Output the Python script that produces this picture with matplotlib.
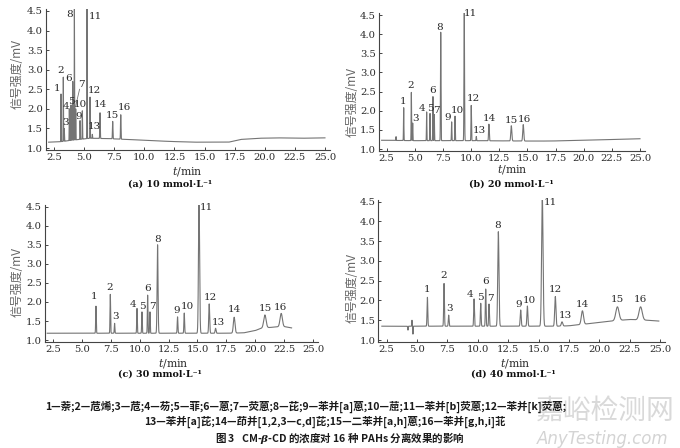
import numpy as np
import matplotlib
matplotlib.use("Agg")
import matplotlib.pyplot as plt

plt.rcParams['mathtext.fontset'] = 'dejavuserif'

# ---------------- data ----------------
PEAK_IDS = [str(i) for i in range(1, 17)]
CONC_TITLES = ["(a) 10 mmol·L⁻¹", "(b) 20 mmol·L⁻¹", "(c) 30 mmol·L⁻¹", "(d) 40 mmol·L⁻¹"]

# retention times (min)
rt_a = [3.08, 3.27, 3.35, 3.77, 3.91, 4.05, 4.30, 4.19, 4.66, 4.85, 5.24, 5.49, 5.68, 6.32, 7.37, 8.04]
rt_b = [4.01, 4.69, 4.81, 6.05, 6.35, 6.61, 6.73, 7.30, 8.27, 8.57, 9.39, 10.01, 10.46, 11.58, 13.57, 14.63]
rt_c = [6.22, 7.46, 7.83, 9.77, 10.20, 10.69, 10.89, 11.55, 13.28, 13.86, 15.14, 16.02, 16.57, 18.18, 20.84, 22.25]
rt_d = [5.85, 7.22, 7.60, 9.69, 10.24, 10.65, 10.92, 11.69, 13.53, 14.08, 15.31, 16.38, 16.93, 18.61, 21.49, 23.40]

# peak apex signal (mV)
top_a = [2.38, 2.81, 1.50, 2.00, 2.10, 2.70, 2.00, 4.60, 1.70, 1.95, 4.60, 2.30, 1.35, 1.90, 1.68, 1.85]
top_b = [2.08, 2.48, 1.68, 1.97, 1.93, 2.37, 1.90, 4.05, 1.71, 1.86, 4.63, 2.14, 1.33, 1.65, 1.61, 1.64]
top_c = [1.89, 2.20, 1.44, 1.83, 1.74, 2.18, 1.74, 3.50, 1.61, 1.71, 4.60, 1.95, 1.31, 1.60, 1.66, 1.70]
top_d = [2.08, 2.43, 1.63, 2.04, 1.93, 2.29, 1.91, 3.74, 1.76, 1.86, 4.60, 2.10, 1.46, 1.74, 1.84, 1.84]

# peak widths (sigma, min)
wid_a = [0.012] * 13 + [0.02, 0.02, 0.02]
wid_b = [0.018] * 7 + [0.022, 0.02, 0.02, 0.025, 0.022, 0.02, 0.03, 0.045, 0.045]
wid_c = [0.025] * 7 + [0.04, 0.03, 0.03, 0.05, 0.04, 0.04, 0.07, 0.10, 0.10]
wid_d = [0.03] * 7 + [0.05, 0.04, 0.04, 0.06, 0.05, 0.06, 0.09, 0.13, 0.13]

# baselines (time, signal)
base_t_a = [2.05, 3.0, 4.0, 5.5, 7.0, 8.5, 10.0, 12.0, 14.0, 17.0, 18.0, 19.5, 21.0, 23.0, 25.0]
base_v_a = [1.15, 1.16, 1.20, 1.25, 1.24, 1.22, 1.20, 1.17, 1.15, 1.15, 1.22, 1.25, 1.26, 1.25, 1.26]
base_t_b = [2.05, 5.0, 10.0, 15.0, 17.0, 20.0, 22.5, 25.0]
base_v_b = [1.23, 1.22, 1.22, 1.21, 1.21, 1.23, 1.25, 1.27]
base_t_c = [2.0, 5.0, 10.0, 15.0, 17.5, 19.0, 20.0, 20.7, 21.2, 22.0, 22.6, 23.15]
base_v_c = [1.18, 1.18, 1.18, 1.18, 1.18, 1.19, 1.25, 1.33, 1.33, 1.35, 1.35, 1.32]
base_t_d = [2.1, 10.0, 16.5, 17.5, 19.0, 21.0, 22.5, 24.0, 24.9]
base_v_d = [1.35, 1.35, 1.35, 1.36, 1.41, 1.48, 1.52, 1.50, 1.48]

# unlabelled features (time, signed height above baseline, sigma)
extra_t_b = [3.33]
extra_h_b = [0.10]
extra_w_b = [0.015]
extra_t_d = [4.25, 4.58, 4.66]
extra_h_d = [-0.10, 0.15, -0.20]
extra_w_d = [0.02, 0.015, 0.015]

X_TICKS = [2.5, 5.0, 7.5, 10.0, 12.5, 15.0, 17.5, 20.0, 22.5, 25.0]
Y_TICKS = [1.0, 1.5, 2.0, 2.5, 3.0, 3.5, 4.0, 4.5]

LEGEND_1 = "1—萘;2—苊烯;3—苊;4—芴;5—菲;6—蒽;7—荧蒽;8—芘;9—苯并[a]蒽;10—䓛;11—苯并[b]荧蒽;12—苯并[k]荧蒽;"
LEGEND_2 = "13—苯并[a]芘;14—茚并[1,2,3—c,d]芘;15—二苯并[a,h]蒽;16—苯并[g,h,i]苝"
CAPTION = "图 3   CM-$\\boldsymbol{\\beta}$-CD 的浓度对 16 种 PAHs 分离效果的影响"

# ---------------- layout (not data) ----------------
W, H = 680, 448
# panel rectangles in pixels: left, right, top, bottom
RECTS = [(45.6, 329.8, 9.4, 150.0),
         (378.8, 644.5, 13.5, 151.0),
         (44.9, 317.6, 205.2, 342.0),
         (378.2, 664.9, 200.1, 342.0)]
XLIM = (1.8, 25.4)
YLIM = (0.95, 4.54)

# peak label positions (data coords) per panel
LAB_A = [(2.77, 2.52), (3.05, 2.99), (3.47, 1.64), (3.47, 2.07), (3.91, 2.18), (3.69, 2.78),
         (4.74, 2.61), (3.77, 4.40), (4.52, 1.81), (4.66, 2.11), (5.90, 4.37), (5.85, 2.48),
         (5.85, 1.54), (6.32, 2.10), (7.37, 1.83), (8.31, 2.03)]
LAB_B = [(3.98, 2.25), (4.63, 2.65), (5.10, 1.80), (5.61, 2.06), (6.35, 2.06), (6.58, 2.52),
         (6.94, 2.02), (7.23, 4.18), (7.92, 1.82), (8.77, 2.00), (9.96, 4.54), (10.19, 2.32),
         (10.70, 1.48), (11.61, 1.80), (13.60, 1.74), (14.69, 1.78)]
LAB_C = [(6.05, 2.14), (7.37, 2.38), (7.95, 1.63), (9.45, 1.94), (10.22, 1.89), (10.72, 2.35),
         (11.09, 1.88), (11.52, 3.64), (13.20, 1.77), (14.11, 1.88), (15.80, 4.48), (16.08, 2.12),
         (16.80, 1.46), (18.18, 1.81), (20.84, 1.84), (22.22, 1.86)]
LAB_D = [(5.84, 2.28), (7.16, 2.62), (7.71, 1.80), (9.36, 2.14), (10.18, 2.08), (10.65, 2.48),
         (11.06, 2.04), (11.60, 3.91), (13.39, 1.90), (14.24, 2.01), (15.94, 4.48), (16.35, 2.27),
         (17.18, 1.63), (18.60, 1.89), (21.46, 2.03), (23.35, 2.03)]

# text positions (pixels): xlabel, title, ylabel
XLAB_POS = [(187, 172), (512, 170), (173, 363), (515, 363)]
TITLE_POS = [(170, 184), (511, 184), (160, 374), (513, 374)]
YLAB_POS = [(17, 74), (352, 102), (17, 282), (352, 288)]

panels = [
    (rt_a, top_a, wid_a, base_t_a, base_v_a, [], [], [], LAB_A),
    (rt_b, top_b, wid_b, base_t_b, base_v_b, extra_t_b, extra_h_b, extra_w_b, LAB_B),
    (rt_c, top_c, wid_c, base_t_c, base_v_c, [], [], [], LAB_C),
    (rt_d, top_d, wid_d, base_t_d, base_v_d, extra_t_d, extra_h_d, extra_w_d, LAB_D),
]

LINE_COLOR = '#747474'
TEXT_COLOR = '#2a2a2a'
SERIF = 'DejaVu Serif'
CJK = ['Noto Sans CJK SC', 'DejaVu Sans']

fig = plt.figure(figsize=(W / 100, H / 100), dpi=100)
fig.patch.set_facecolor('white')


def px(x, y):
    return x / W, 1 - y / H


for i, (rt, top, wid, bt, bv, et, eh, ew, lab) in enumerate(panels):
    l, r, t_, b_ = RECTS[i]
    ax = fig.add_axes([l / W, 1 - b_ / H, (r - l) / W, (b_ - t_) / H])
    t = np.arange(bt[0], bt[-1], 0.002)
    y = np.interp(t, bt, bv)
    for tp, hp, sp in zip(rt, top, wid):
        amp = hp - np.interp(tp, bt, bv)
        y = y + amp * np.exp(-0.5 * ((t - tp) / sp) ** 2)
    for tp, hp, sp in zip(et, eh, ew):
        y = y + hp * np.exp(-0.5 * ((t - tp) / sp) ** 2)
    ax.plot(t, y, color=LINE_COLOR, lw=0.8, clip_on=True)
    ax.set_xlim(*XLIM)
    ax.set_ylim(*YLIM)
    ax.set_xticks(X_TICKS)
    ax.set_xticklabels([f"{v:.1f}" for v in X_TICKS])
    ax.set_yticks(Y_TICKS)
    ax.set_yticklabels([f"{v:.1f}" for v in Y_TICKS])
    for s in ['top', 'right']:
        ax.spines[s].set_visible(False)
    for s in ['left', 'bottom']:
        ax.spines[s].set_color('#444444')
        ax.spines[s].set_linewidth(0.8)
    ax.tick_params(direction='in', length=2.5, width=0.7, color='#444444',
                   labelsize=7.2, pad=2, labelcolor=TEXT_COLOR)
    for lbl in ax.get_xticklabels() + ax.get_yticklabels():
        lbl.set_fontfamily(SERIF)
    ax.patch.set_alpha(0)
    for pid, (lx, ly) in zip(PEAK_IDS, lab):
        ax.text(lx, ly, pid, ha='center', va='center', fontsize=7.5,
                family=SERIF, color=TEXT_COLOR)
    if i == 0:
        ax.plot([4.62, 4.28], [2.5, 2.05], color=LINE_COLOR, lw=0.6)
    fig.text(*px(*XLAB_POS[i]), "$t$/min", ha='center', va='center',
             fontsize=7.8, family=SERIF, color=TEXT_COLOR)
    fig.text(*px(*TITLE_POS[i]), CONC_TITLES[i], ha='center', va='center',
             fontsize=6.8, family=SERIF, fontweight='bold', color='#111111')
    fig.text(*px(*YLAB_POS[i]), "信号强度/mV", ha='center', va='center',
             rotation=90, fontsize=8.6, family=CJK, color='#666666')

# watermark (behind the legend text)
fig.text(*px(605, 411), "嘉峪检测网", ha='center', va='center', fontsize=20,
         family=CJK, color='#d9d9d9', zorder=0)
fig.text(*px(603, 439), "AnyTesting.com", ha='center', va='center', fontsize=12,
         family='DejaVu Sans', style='italic', color='#d4d4d4', zorder=0)

fig.text(*px(306, 407), LEGEND_1, ha='center', va='center', fontsize=7.55,
         family=CJK, fontweight='bold', color='#1a1a1a', zorder=2)
fig.text(*px(325, 422), LEGEND_2, ha='center', va='center', fontsize=7.55,
         family=CJK, fontweight='bold', color='#1a1a1a', zorder=2)
fig.text(*px(340, 438), CAPTION, ha='center', va='center', fontsize=7.55,
         family=CJK, fontweight='bold', color='#1a1a1a', zorder=2)

fig.savefig('out.png', dpi=100)
